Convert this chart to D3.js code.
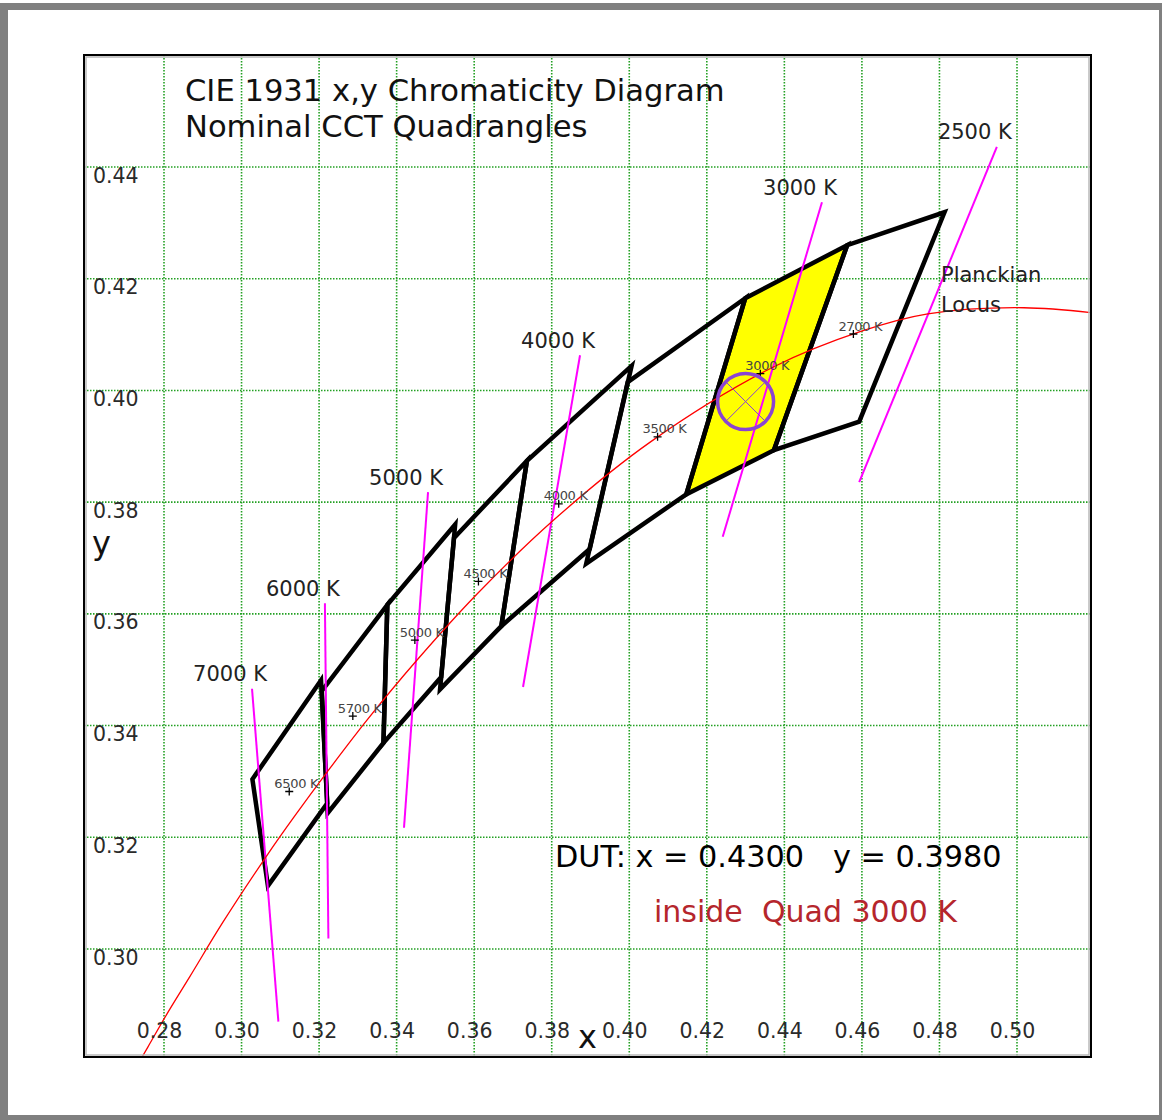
<!DOCTYPE html>
<html>
<head>
<meta charset="utf-8">
<script src="https://cdn.jsdelivr.net/npm/d3@7"></script>
<style>
  body { margin: 0; background: #fff; }
  text { font-family: "DejaVu Sans", Verdana, sans-serif; }
</style>
</head>
<body>
<div id="chart"></div>
<script>
var width = 1162;
var height = 1120;

// grid / tick values
var xTicks = [0.28, 0.30, 0.32, 0.34, 0.36, 0.38, 0.40, 0.42, 0.44, 0.46, 0.48, 0.50];
var yTicks = [0.30, 0.32, 0.34, 0.36, 0.38, 0.40, 0.42, 0.44];

// Planckian locus (CCT in K and its x,y)
var locusCCT = [12000, 11000, 10000, 9000, 8000, 7000, 6500, 6000, 5500, 5000, 4500, 4000, 3500, 3000, 2700, 2500, 2200, 2000];
var locusX = [0.2718, 0.2758, 0.2807, 0.2867, 0.2952, 0.3064, 0.3135, 0.3222, 0.3325, 0.3451, 0.3608, 0.3805, 0.4053, 0.4369, 0.4599, 0.4770, 0.5018, 0.5267];
var locusY = [0.2776, 0.2824, 0.2883, 0.2951, 0.3048, 0.3166, 0.3236, 0.3318, 0.3411, 0.3516, 0.3636, 0.3768, 0.3907, 0.4041, 0.4106, 0.4137, 0.4148, 0.4133];

// nominal CCT quadrangles
var quadCCT = [2700, 3000, 3500, 4000, 4500, 5000, 5700, 6500];
var quadCenterX = [0.4578, 0.4338, 0.4073, 0.3818, 0.3611, 0.3447, 0.3287, 0.3123];
var quadCenterY = [0.4101, 0.4030, 0.3917, 0.3797, 0.3658, 0.3553, 0.3417, 0.3282];
var quadCornerX = [
  [0.4813, 0.4562, 0.4373, 0.4593],
  [0.4562, 0.4299, 0.4147, 0.4373],
  [0.4299, 0.3996, 0.3889, 0.4147],
  [0.4006, 0.3736, 0.3670, 0.3898],
  [0.3736, 0.3548, 0.3512, 0.3670],
  [0.3551, 0.3376, 0.3366, 0.3515],
  [0.3376, 0.3207, 0.3222, 0.3366],
  [0.3205, 0.3028, 0.3068, 0.3221]
];
var quadCornerY = [
  [0.4319, 0.4260, 0.3893, 0.3944],
  [0.4260, 0.4165, 0.3814, 0.3893],
  [0.4165, 0.4015, 0.3690, 0.3814],
  [0.4044, 0.3874, 0.3578, 0.3716],
  [0.3874, 0.3736, 0.3465, 0.3578],
  [0.3760, 0.3616, 0.3369, 0.3487],
  [0.3616, 0.3462, 0.3243, 0.3369],
  [0.3481, 0.3304, 0.3113, 0.3261]
];

// isotemperature lines
var isoCCT = [7000, 6000, 5000, 4000, 3000, 2500];
var isoTopX = [0.3027, 0.3215, 0.3481, 0.3873, 0.4497, 0.4948];
var isoTopY = [0.3466, 0.3619, 0.3818, 0.4063, 0.4337, 0.4436];
var isoBotX = [0.3095, 0.3224, 0.3419, 0.3726, 0.4241, 0.4593];
var isoBotY = [0.2870, 0.3019, 0.3217, 0.3469, 0.3738, 0.3836];

// device under test
var dutX = 0.4300;
var dutY = 0.3980;
var dutQuad = 3000;

var x = d3.scaleLinear().domain([0.28, 0.50]).range([164, 1017]);
var y = d3.scaleLinear().domain([0.30, 0.44]).range([949, 167]);

var plot = { left: 84, top: 55, right: 1091, bottom: 1057 };
var gridColor = "#23a023";

var svg = d3.select("#chart").append("svg")
  .attr("width", width)
  .attr("height", height);

// outer grey border
svg.append("rect").attr("x", 0).attr("y", 3).attr("width", 8).attr("height", 1117).attr("fill", "#808080");
svg.append("rect").attr("x", 0).attr("y", 3).attr("width", width).attr("height", 7).attr("fill", "#808080");
svg.append("rect").attr("x", 1159).attr("y", 3).attr("width", 3).attr("height", 1117).attr("fill", "#808080");
svg.append("rect").attr("x", 0).attr("y", 1115).attr("width", width).attr("height", 5).attr("fill", "#808080");

svg.append("clipPath").attr("id", "plotClip")
  .append("rect")
    .attr("x", plot.left).attr("y", plot.top)
    .attr("width", plot.right - plot.left).attr("height", plot.bottom - plot.top);

var g = svg.append("g").attr("clip-path", "url(#plotClip)");

// dotted green grid
g.selectAll(".vgrid")
  .data(xTicks)
  .enter().append("line")
    .attr("x1", function(d) { return x(d); })
    .attr("x2", function(d) { return x(d); })
    .attr("y1", plot.top)
    .attr("y2", plot.bottom)
    .attr("stroke", gridColor)
    .attr("stroke-width", 1.6)
    .attr("stroke-dasharray", "1.5,1.5");

g.selectAll(".hgrid")
  .data(yTicks)
  .enter().append("line")
    .attr("x1", plot.left)
    .attr("x2", plot.right)
    .attr("y1", function(d) { return y(d); })
    .attr("y2", function(d) { return y(d); })
    .attr("stroke", gridColor)
    .attr("stroke-width", 1.6)
    .attr("stroke-dasharray", "1.5,1.5");

// tick labels
svg.selectAll(".xlab")
  .data(xTicks)
  .enter().append("text")
    .attr("x", function(d) { return x(d) - 4.5; })
    .attr("y", 1038)
    .attr("text-anchor", "middle")
    .style("font-size", "20.5px")
    .style("fill", "#2a2a2a")
    .text(function(d) { return d.toFixed(2); });

svg.selectAll(".ylab")
  .data(yTicks)
  .enter().append("text")
    .attr("x", 93)
    .attr("y", function(d) { return y(d) + 15.5; })
    .style("font-size", "20.5px")
    .style("fill", "#2a2a2a")
    .text(function(d) { return d.toFixed(2); });

// quadrangles
var quads = quadCCT.map(function(c, i) {
  return {
    cct: c,
    pts: quadCornerX[i].map(function(v, j) { return [x(v), y(quadCornerY[i][j])]; })
  };
});
var quadLine = d3.line();

g.selectAll(".quadFill")
  .data(quads.filter(function(d) { return d.cct === dutQuad; }))
  .enter().append("path")
    .attr("d", function(d) { return quadLine(d.pts) + "Z"; })
    .attr("fill", "#ffff00");

g.selectAll(".quad")
  .data(quads)
  .enter().append("path")
    .attr("d", function(d) { return quadLine(d.pts) + "Z"; })
    .attr("fill", "none")
    .attr("stroke", "#000")
    .attr("stroke-width", 4.5);

// isotemperature lines + labels
g.selectAll(".iso")
  .data(isoCCT)
  .enter().append("line")
    .attr("x1", function(d, i) { return x(isoTopX[i]); })
    .attr("y1", function(d, i) { return y(isoTopY[i]); })
    .attr("x2", function(d, i) { return x(isoBotX[i]); })
    .attr("y2", function(d, i) { return y(isoBotY[i]); })
    .attr("stroke", "#ff00ff")
    .attr("stroke-width", 2);

svg.selectAll(".isoLab")
  .data(isoCCT)
  .enter().append("text")
    .attr("x", function(d, i) { return x(isoTopX[i]) - 22; })
    .attr("y", function(d, i) { return y(isoTopY[i]) - 7.5; })
    .attr("text-anchor", "middle")
    .style("font-size", "21px")
    .style("fill", "#222")
    .text(function(d) { return d + " K"; });

// Planckian locus
var locus = locusCCT.map(function(c, i) { return [x(locusX[i]), y(locusY[i])]; });
g.append("path")
  .attr("d", d3.line().curve(d3.curveCatmullRom)(locus))
  .attr("fill", "none")
  .attr("stroke", "#ff0000")
  .attr("stroke-width", 1.3);

// nominal centre markers
g.selectAll(".ctrLab")
  .data(quadCCT)
  .enter().append("text")
    .attr("x", function(d, i) { return x(quadCenterX[i]) - 15; })
    .attr("y", function(d, i) { return y(quadCenterY[i]) - 3.5; })
    .style("font-size", "13px")
    .style("letter-spacing", "-0.3px")
    .style("fill", "#444")
    .text(function(d) { return d + " K"; });

g.selectAll(".ctr")
  .data(quadCCT)
  .enter().append("path")
    .attr("transform", function(d, i) { return "translate(" + x(quadCenterX[i]) + "," + y(quadCenterY[i]) + ")"; })
    .attr("d", "M-4,0H4M0,-4V4")
    .attr("stroke", "#000")
    .attr("stroke-width", 1.3);

// DUT marker
var dut = g.append("g").attr("transform", "translate(" + x(dutX) + "," + y(dutY) + ")");
dut.append("circle")
  .attr("r", 28)
  .attr("fill", "none")
  .attr("stroke", "#8a44d2")
  .attr("stroke-width", 3.5);
dut.append("path")
  .attr("d", "M-20,-20L20,20M-20,20L20,-20")
  .attr("stroke", "#8a44d2")
  .attr("stroke-width", 1);

// frame
svg.append("rect")
  .attr("x", plot.left + 2).attr("y", plot.top + 2)
  .attr("width", plot.right - plot.left - 4).attr("height", plot.bottom - plot.top - 4)
  .attr("fill", "none")
  .attr("stroke", "#b8b8b8")
  .attr("stroke-width", 1.5);
svg.append("rect")
  .attr("x", plot.left).attr("y", plot.top)
  .attr("width", plot.right - plot.left).attr("height", plot.bottom - plot.top)
  .attr("fill", "none")
  .attr("stroke", "#000")
  .attr("stroke-width", 2);

// texts
svg.append("text").attr("x", 185).attr("y", 101)
  .style("font-size", "30.6px").style("fill", "#111")
  .text("CIE 1931 x,y Chromaticity Diagram");
svg.append("text").attr("x", 185).attr("y", 137)
  .style("font-size", "30.6px").style("fill", "#111")
  .text("Nominal CCT Quadrangles");

svg.append("text").attr("x", 941).attr("y", 282)
  .style("font-size", "21px").style("fill", "#222")
  .text("Planckian");
svg.append("text").attr("x", 941).attr("y", 312)
  .style("font-size", "21px").style("fill", "#222")
  .text("Locus");

svg.append("text").attr("x", (plot.left + plot.right) / 2).attr("y", 1048)
  .attr("text-anchor", "middle")
  .style("font-size", "32px").style("fill", "#111")
  .text("x");
svg.append("text").attr("x", 92).attr("y", 554)
  .style("font-size", "32px").style("fill", "#111")
  .text("y");

svg.append("text").attr("x", 555).attr("y", 867)
  .style("font-size", "30.3px").style("fill", "#000")
  .style("white-space", "pre")
  .text("DUT: x = " + dutX.toFixed(4) + "   y = " + dutY.toFixed(4));
svg.append("text").attr("x", 654).attr("y", 922)
  .style("font-size", "30px").style("fill", "#b5262c")
  .style("white-space", "pre")
  .text("inside  Quad " + dutQuad + " K");
</script>
</body>
</html>
